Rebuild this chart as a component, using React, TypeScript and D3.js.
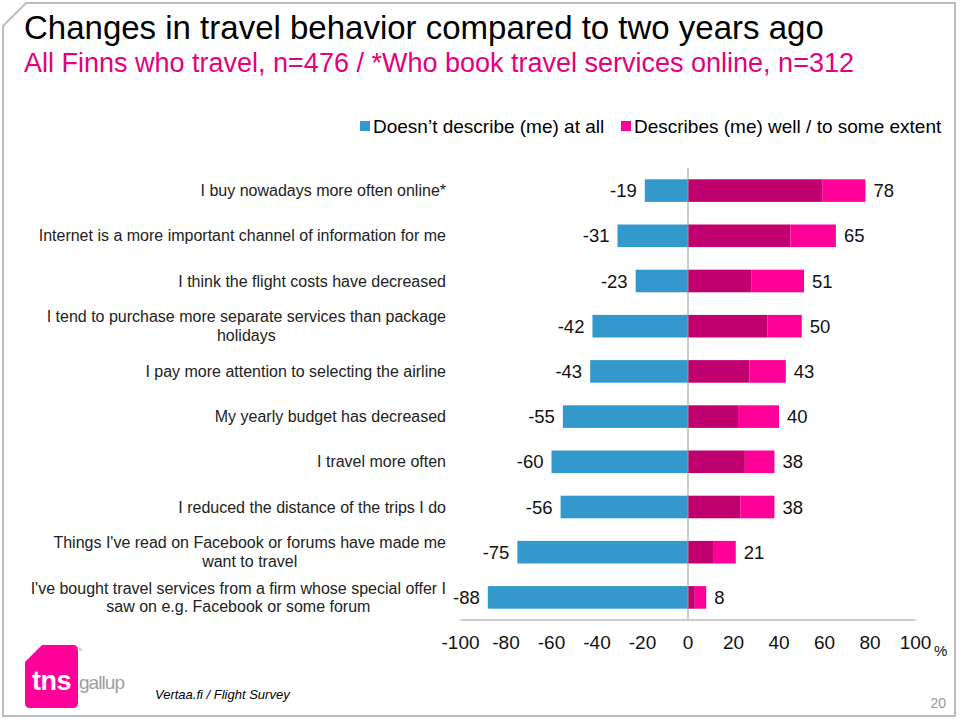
import React, { useEffect, useRef } from "react";
import * as d3 from "d3";

const categories: string[] = [
  "I buy nowadays more often online*",
  "Internet is a more important channel of information for me",
  "I think the flight costs have decreased",
  "I tend to purchase more separate services than package\nholidays",
  "I pay more attention to selecting the airline",
  "My yearly budget has decreased",
  "I travel more often",
  "I reduced the distance of the trips I do",
  "Things I've read on Facebook or forums have made me\nwant to travel",
  "I've bought travel services from a firm whose special offer I\nsaw on e.g. Facebook or some forum",
];
const notAtAll: number[] = [-19, -31, -23, -42, -43, -55, -60, -56, -75, -88];
const describesWell: number[] = [59, 45, 28, 35, 27, 22, 25, 23, 11, 3];
const describesSome: number[] = [19, 20, 23, 15, 16, 18, 13, 15, 10, 5];
const xTicks: number[] = [-100, -80, -60, -40, -20, 0, 20, 40, 60, 80, 100];
const legendLabels: string[] = ["Doesn\u2019t describe (me) at all", "Describes (me) well / to some extent"];

const BLUE = "#3399cc";
const DARK = "#c0006e";
const PINK = "#ff0099";
const FONT = "'Liberation Sans', Arial, sans-serif";

export default function App() {
  const ref = useRef<SVGSVGElement | null>(null);

  useEffect(() => {
    const svg = d3.select(ref.current);
    svg.selectAll("*").remove();

    // frame
    svg.append("path")
      .attr("d", `M3,26 L26,3 L955,3 L955,716 L3,716 Z`)
      .attr("fill", "#fff").attr("stroke", "#bdbdbd").attr("stroke-width", 2);

    // title
    svg.append("text").attr("x", 24).attr("y", 39).attr("font-family", FONT)
      .attr("font-size", 33).attr("fill", "#000")
      .text("Changes in travel behavior compared to two years ago");
    svg.append("text").attr("x", 24).attr("y", 72).attr("font-family", FONT)
      .attr("font-size", 27).attr("fill", "#e5007d")
      .text("All Finns who travel, n=476 / *Who book travel services online, n=312");

    // legend
    const lg = svg.append("g").attr("font-family", FONT).attr("font-size", 19);
    lg.append("rect").attr("x", 360).attr("y", 121).attr("width", 10).attr("height", 10).attr("fill", BLUE);
    lg.append("text").attr("x", 373).attr("y", 133).text(legendLabels[0]);
    lg.append("rect").attr("x", 621).attr("y", 121).attr("width", 10).attr("height", 10).attr("fill", PINK);
    lg.append("text").attr("x", 634).attr("y", 133).text(legendLabels[1]);

    const x = d3.scaleLinear().domain([-100, 100]).range([460.5, 915.5]);
    const y = d3.scaleBand<number>().domain(d3.range(categories.length)).range([168, 620]).paddingInner(0.5).paddingOuter(0.25);

    const g = svg.append("g");
    const bw = y.bandwidth();

    // bars
    categories.forEach((_, i) => {
      const y0 = y(i)!;
      g.append("rect").attr("x", x(notAtAll[i])).attr("y", y0).attr("width", x(0) - x(notAtAll[i])).attr("height", bw).attr("fill", BLUE);
      g.append("rect").attr("x", x(0)).attr("y", y0).attr("width", x(describesWell[i]) - x(0)).attr("height", bw).attr("fill", DARK);
      g.append("rect").attr("x", x(describesWell[i])).attr("y", y0)
        .attr("width", x(describesWell[i] + describesSome[i]) - x(describesWell[i])).attr("height", bw).attr("fill", PINK);
      g.append("text").attr("x", x(notAtAll[i]) - 8).attr("y", y0 + bw / 2 + 6.5)
        .attr("text-anchor", "end").attr("font-family", FONT).attr("font-size", 18.5).attr("fill", "#111")
        .text(String(notAtAll[i]));
      g.append("text").attr("x", x(describesWell[i] + describesSome[i]) + 8).attr("y", y0 + bw / 2 + 6.5)
        .attr("font-family", FONT).attr("font-size", 18.5).attr("fill", "#111")
        .text(String(describesWell[i] + describesSome[i]));
    });

    // axes lines
    g.append("line").attr("x1", x(0)).attr("x2", x(0)).attr("y1", 168).attr("y2", 620).attr("stroke", "#999").attr("stroke-width", 1);
    g.append("line").attr("x1", x(-100)).attr("x2", x(100)).attr("y1", 620).attr("y2", 620).attr("stroke", "#bbb").attr("stroke-width", 1.5);

    // tick labels
    xTicks.forEach(t => {
      g.append("text").attr("x", x(t)).attr("y", 649).attr("text-anchor", "middle")
        .attr("font-family", FONT).attr("font-size", 19).attr("fill", "#111").text(String(t));
    });
    g.append("text").attr("x", 934).attr("y", 656).attr("font-family", FONT).attr("font-size", 15).attr("fill", "#111").text("%");

    // category labels
    const right = 446;
    categories.forEach((c, i) => {
      const lines = c.split("\n");
      const cy = y(i)! + bw / 2;
      const t = g.append("text").attr("font-family", FONT).attr("font-size", 16).attr("fill", "#222");
      if (lines.length === 1) {
        t.attr("x", right).attr("y", cy + 5.5).attr("text-anchor", "end").text(lines[0]);
      } else {
        const lh = 18.5;
        const spans = lines.map((l, k) => t.append("tspan").attr("y", cy + 5.5 + (k - (lines.length - 1) / 2) * lh).text(l));
        const maxW = d3.max(spans, s => (s.node() as SVGTSpanElement).getComputedTextLength()) || 0;
        const cx = right - maxW / 2;
        spans.forEach(s => s.attr("x", cx).attr("text-anchor", "middle"));
      }
    });

    // logo
    const logo = svg.append("g");
    logo.append("path")
      .attr("d", "M42,645 L73,645 Q78,645 78,650 L78,703 Q78,708 73,708 L30,708 Q25,708 25,703 L25,662 Z")
      .attr("fill", "#ff0099");
    logo.append("text").attr("x", 32).attr("y", 690).attr("font-family", FONT).attr("font-weight", "bold")
      .attr("font-size", 27).attr("fill", "#fff").attr("letter-spacing", -0.5).text("tns");
    logo.append("text").attr("x", 79).attr("y", 689).attr("font-family", FONT)
      .attr("font-size", 19).attr("fill", "#a0a0a0").attr("textLength", 46).text("gallup");
    logo.append("text").attr("x", 76).attr("y", 651).attr("font-family", FONT)
      .attr("font-size", 4).attr("fill", "#999").text("TM");

    svg.append("text").attr("x", 155).attr("y", 699).attr("font-family", FONT).attr("font-style", "italic")
      .attr("font-size", 13).attr("fill", "#000").text("Vertaa.fi / Flight Survey");
    svg.append("text").attr("x", 946).attr("y", 708).attr("text-anchor", "end").attr("font-family", FONT)
      .attr("font-size", 14).attr("fill", "#999").text("20");
  }, []);

  return (
    <svg ref={ref} width={960} height={719} style={{ position: "absolute", left: 0, top: 0, background: "#fff" }} />
  );
}
